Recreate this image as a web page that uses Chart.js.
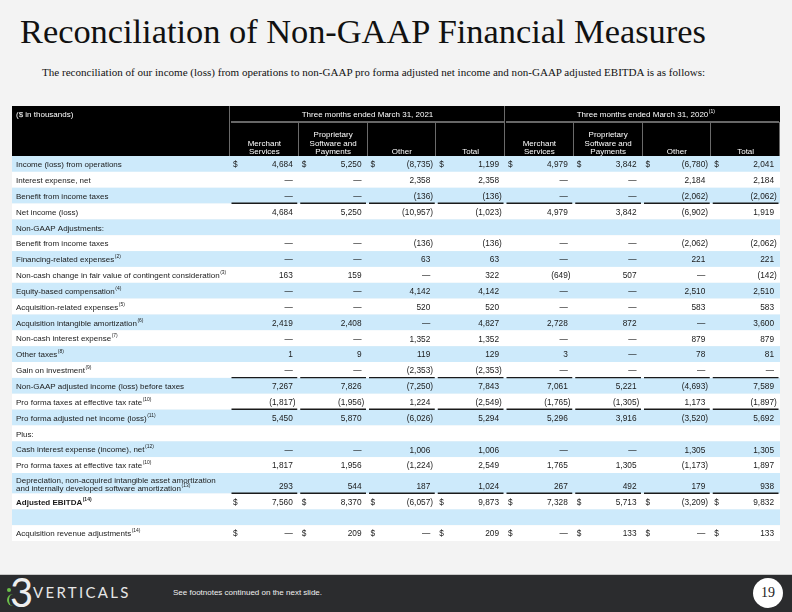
<!DOCTYPE html>
<html>
<head>
<meta charset="utf-8">
<script src="https://cdn.jsdelivr.net/npm/chart.js@4.4.1/dist/chart.umd.min.js"></script>
<style>
  body { margin: 0; width: 792px; height: 612px; background: #f3f3f3; position: relative; overflow: hidden; font-family: "Liberation Sans", Arial, sans-serif; }
  #title { position: absolute; left: 20px; top: 14px; font-family: "Liberation Serif", Georgia, serif; font-size: 38px; line-height: 1; color: #111; white-space: nowrap; }
  #subtitle { position: absolute; left: 42px; top: 67px; font-family: "Liberation Serif", Georgia, serif; font-size: 11px; line-height: 1; color: #111; white-space: nowrap; }
  #table { position: absolute; left: 12px; top: 106px; }
  #footer { position: absolute; left: 0; top: 574px; width: 792px; height: 38px; background: #2b2c2e; border-top: 1px solid #c8c8c8; box-sizing: border-box; }
  #logo3 { position: absolute; left: 10px; top: -3px; font-family: Lato, "Open Sans", sans-serif; font-size: 40px; line-height: 1; color: #eee; }
  #dot { position: absolute; left: 7px; top: 13px; width: 4px; height: 4px; border-radius: 2px; background: #6cc04a; }
  #arc { position: absolute; left: 7px; top: 19px; width: 9px; height: 12px; border-left: 2px solid #6cc04a; border-radius: 10px 0 0 10px; }
  #brand { position: absolute; left: 33px; top: 10px; font-family: Lato, "Open Sans", sans-serif; font-size: 15px; line-height: 1; letter-spacing: 2.3px; color: #e6e6e6; }
  #note { position: absolute; left: 173px; top: 13px; font-size: 8px; color: #f0f0f0; }
  #page { position: absolute; left: 753px; top: 3px; width: 30px; height: 30px; border-radius: 15px; background: #fff; color: #222; font-family: "Liberation Serif", Georgia, serif; font-size: 14px; line-height: 30px; text-align: center; }
</style>
</head>
<body>
<div id="title">Reconciliation of Non-GAAP Financial Measures</div>
<div id="subtitle">The reconciliation of our income (loss) from operations to non-GAAP pro forma adjusted net income and non-GAAP adjusted EBITDA is as follows:</div>
<canvas id="table" width="768" height="435"></canvas>
<div id="footer">
  <div id="logo3">3</div><div id="dot"></div><div id="arc"></div>
  <div id="brand">VERTICALS</div>
  <div id="note">See footnotes continued on the next slide.</div>
  <div id="page">19</div>
</div>
<script>
// table data
const rowLabels = [
  "Income (loss) from operations",
  "Interest expense, net",
  "Benefit from income taxes",
  "Net income (loss)",
  "Non-GAAP Adjustments:",
  "Benefit from income taxes",
  "Financing-related expenses",
  "Non-cash change in fair value of contingent consideration",
  "Equity-based compensation",
  "Acquisition-related expenses",
  "Acquisition intangible amortization",
  "Non-cash interest expense",
  "Other taxes",
  "Gain on investment",
  "Non-GAAP adjusted income (loss) before taxes",
  "Pro forma taxes at effective tax rate",
  "Pro forma adjusted net income (loss)",
  "Plus:",
  "Cash interest expense (income), net",
  "Pro forma taxes at effective tax rate",
  "Depreciation, non-acquired intangible asset amortization\nand internally developed software amortization",
  "Adjusted EBITDA",
  "",
  "Acquisition revenue adjustments"
];
const rowNotes = ["", "", "", "", "", "", "(2)", "(3)", "(4)", "(5)", "(6)", "(7)", "(8)", "(9)", "", "(10)", "(11)", "", "(12)", "(10)", "(13)", "(14)", "", "(14)"];

const merchant2021 = [4684, 0, 0, 4684, null, 0, 0, 163, 0, 0, 2419, 0, 1, 0, 7267, -1817, 5450, null, 0, 1817, 293, 7560, null, 0];
const software2021 = [5250, 0, 0, 5250, null, 0, 0, 159, 0, 0, 2408, 0, 9, 0, 7826, -1956, 5870, null, 0, 1956, 544, 8370, null, 209];
const other2021 = [-8735, 2358, -136, -10957, null, -136, 63, 0, 4142, 520, 0, 1352, 119, -2353, -7250, 1224, -6026, null, 1006, -1224, 187, -6057, null, 0];
const total2021 = [1199, 2358, -136, -1023, null, -136, 63, 322, 4142, 520, 4827, 1352, 129, -2353, 7843, -2549, 5294, null, 1006, 2549, 1024, 9873, null, 209];
const merchant2020 = [4979, 0, 0, 4979, null, 0, 0, -649, 0, 0, 2728, 0, 3, 0, 7061, -1765, 5296, null, 0, 1765, 267, 7328, null, 0];
const software2020 = [3842, 0, 0, 3842, null, 0, 0, 507, 0, 0, 872, 0, 0, 0, 5221, -1305, 3916, null, 0, 1305, 492, 5713, null, 133];
const other2020 = [-6780, 2184, -2062, -6902, null, -2062, 221, 0, 2510, 583, 0, 879, 78, 0, -4693, 1173, -3520, null, 1305, -1173, 179, -3209, null, 0];
const total2020 = [2041, 2184, -2062, 1919, null, -2062, 221, -142, 2510, 583, 3600, 879, 81, 0, 7589, -1897, 5692, null, 1305, 1897, 938, 9832, null, 133];

const periodLabels = ["Three months ended March 31, 2021", "Three months ended March 31, 2020"];
const periodNotes = ["", "(1)"];
const columnNames = ["Merchant\nServices", "Proprietary\nSoftware and\nPayments", "Other", "Total"];
const dollarRows = [0, 21, 23];
const underlineRows = [2, 13, 15, 20];
const boldRows = [21];

const series = [merchant2021, software2021, other2021, total2021, merchant2020, software2020, other2020, total2020];

// layout (page pixels)
const LEFT = 12, RIGHT = 780, TOP = 106, BOTTOM = 541;
const HEAD1 = 16, HEAD2 = 34;
const FIRST_COL = 230, COL_W = (RIGHT - FIRST_COL) / 8;
const ROW_H = 15.85, TALL_H = 20.5;
const BLUE = "#cdeafb";
const FONT = '"Liberation Sans", Arial, sans-serif';

const rowHeights = rowLabels.map(l => l.includes("\n") ? TALL_H : ROW_H);
const rowTops = [];
let acc = TOP + HEAD1 + HEAD2;
rowHeights.forEach(h => { rowTops.push(acc); acc += h; });
const colLeft = c => FIRST_COL + c * COL_W;
const valueY = i => rowLabels[i].includes("\n") ? rowTops[i] + rowHeights[i] - 6.5 : rowTops[i] + rowHeights[i] / 2 + 1;

function fmt(v) {
  if (v === 0) return "\u2014";
  return Math.abs(v).toLocaleString("en-US");
}

function drawWithNote(ctx, text, note, px, py, size, bold) {
  ctx.font = (bold ? "bold " : "") + size + "px " + FONT;
  ctx.textAlign = "left";
  ctx.fillText(text, px, py);
  if (note) {
    const w = ctx.measureText(text).width;
    ctx.font = (bold ? "bold " : "") + (size * 0.62) + "px " + FONT;
    ctx.fillText(note, px + w + 0.5, py - size * 0.4);
  }
}

const tablePlugin = {
  id: "tableCells",
  beforeDatasetsDraw(chart) {
    const { ctx, scales: { x, y } } = chart;
    const X = v => x.getPixelForValue(v), Y = v => y.getPixelForValue(v);
    ctx.save();
    // row bands
    rowTops.forEach((t, i) => {
      ctx.fillStyle = i % 2 === 0 ? BLUE : "#ffffff";
      ctx.fillRect(X(LEFT), Y(t), X(RIGHT) - X(LEFT), Y(t + rowHeights[i]) - Y(t));
    });
    // header block
    ctx.fillStyle = "#000";
    ctx.fillRect(X(LEFT), Y(TOP), X(RIGHT) - X(LEFT), Y(TOP + HEAD1 + HEAD2) - Y(TOP));
    ctx.lineWidth = 1.5;
    ctx.strokeStyle = "#8a8a8a";
    [0, 1].forEach(p => {
      ctx.beginPath();
      ctx.moveTo(X(colLeft(p * 4)) + 1, Y(TOP + HEAD1));
      ctx.lineTo(X(colLeft(p * 4 + 4)) - 1, Y(TOP + HEAD1));
      ctx.stroke();
    });
    ctx.lineWidth = 1;
    ctx.strokeStyle = "#6a6a6a";
    for (let c = 0; c <= 8; c++) {
      const full = c % 4 === 0 && c < 8;
      const px = Math.round(X(colLeft(c))) - 0.5;
      ctx.beginPath();
      ctx.moveTo(px, Y(full ? TOP : TOP + HEAD1));
      ctx.lineTo(px, Y(TOP + HEAD1 + HEAD2));
      ctx.stroke();
    }
    // header text
    ctx.fillStyle = "#fff";
    ctx.textBaseline = "middle";
    const hy = TOP + HEAD1 / 2 + 0.5;
    drawWithNote(ctx, "($ in thousands)", "", X(LEFT + 4), Y(hy), 8, false);
    periodLabels.forEach((lab, p) => {
      ctx.font = "8px " + FONT;
      const w = ctx.measureText(lab).width;
      const cx = X((colLeft(p * 4) + colLeft(p * 4 + 4)) / 2);
      drawWithNote(ctx, lab, periodNotes[p], cx - w / 2, Y(hy), 8, false);
    });
    ctx.font = "8px " + FONT;
    ctx.textAlign = "center";
    for (let c = 0; c < 8; c++) {
      const lines = columnNames[c % 4].split("\n");
      const cx = X(colLeft(c) + COL_W / 2);
      lines.forEach((ln, k) => {
        ctx.fillText(ln, cx, Y(TOP + HEAD1 + HEAD2 - 4 - (lines.length - 1 - k) * 8.5));
      });
    }
    ctx.restore();
  },
  afterDatasetsDraw(chart) {
    const { ctx, scales: { x, y } } = chart;
    const X = v => x.getPixelForValue(v), Y = v => y.getPixelForValue(v);
    ctx.save();
    ctx.fillStyle = "#1a1a1a";
    ctx.textBaseline = "middle";
    // row labels
    rowLabels.forEach((lab, i) => {
      const lines = lab.split("\n");
      const bold = boldRows.includes(i);
      if (lines.length > 1) {
        drawWithNote(ctx, lines[0], "", X(LEFT + 4), Y(rowTops[i] + 7.5), 8, bold);
        drawWithNote(ctx, lines[1], rowNotes[i], X(LEFT + 4), Y(rowTops[i] + 16), 8, bold);
      } else {
        drawWithNote(ctx, lab, rowNotes[i], X(LEFT + 4), Y(rowTops[i] + rowHeights[i] / 2 + 1), 8, bold);
      }
    });
    // values, placed at the library's point positions
    series.forEach((vals, c) => {
      const meta = chart.getDatasetMeta(c);
      vals.forEach((v, i) => {
        if (v === null) return;
        const pt = meta.data[i];
        ctx.font = "8.3px " + FONT;
        ctx.textAlign = "right";
        ctx.fillText((v < 0 ? "(" : "") + fmt(v), pt.x, pt.y);
        if (v < 0) { ctx.textAlign = "left"; ctx.fillText(")", pt.x, pt.y); }
        if (dollarRows.includes(i)) {
          ctx.textAlign = "left";
          ctx.fillText("$", X(colLeft(c) + 3), pt.y);
        }
      });
    });
    // underlines
    ctx.strokeStyle = "#1a1a1a";
    ctx.lineWidth = 1.4;
    underlineRows.forEach(i => {
      const ly = Y(rowTops[i] + rowHeights[i]) - 0.3;
      for (let c = 0; c < 8; c++) {
        ctx.beginPath();
        ctx.moveTo(X(colLeft(c) + 1.5), ly);
        ctx.lineTo(X(colLeft(c + 1) - 1.5), ly);
        ctx.stroke();
      }
    });
    ctx.restore();
  }
};

new Chart(document.getElementById("table"), {
  type: "scatter",
  data: {
    datasets: series.map((vals, c) => ({
      data: vals.map((v, i) => ({ x: colLeft(c + 1) - 6, y: valueY(i) })),
      pointRadius: 0
    }))
  },
  options: {
    responsive: false,
    animation: false,
    events: [],
    layout: { padding: 0 },
    plugins: { legend: { display: false }, tooltip: { enabled: false } },
    scales: {
      x: { type: "linear", min: LEFT, max: RIGHT, display: false },
      y: { type: "linear", min: TOP, max: BOTTOM, reverse: true, display: false }
    }
  },
  plugins: [tablePlugin]
});

// stretch the serif headings to the width they take on the slide
function fitWidth(el, target) {
  const size = parseFloat(getComputedStyle(el).fontSize);
  el.style.fontSize = (size * target / el.getBoundingClientRect().width) + "px";
}
fitWidth(document.getElementById("title"), 686);
fitWidth(document.getElementById("subtitle"), 664);
</script>
</body>
</html>
